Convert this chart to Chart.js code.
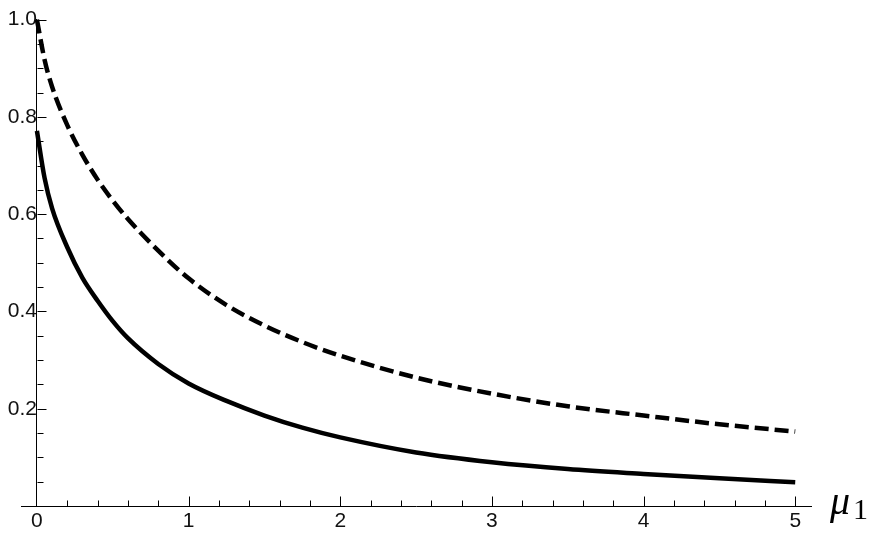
<!DOCTYPE html>
<html>
<head>
<meta charset="utf-8">
<script src="https://cdn.jsdelivr.net/npm/chart.js@4"></script>
<style>
  html, body { margin: 0; padding: 0; background: #fff; }
  #myChart { display: block; }
</style>
</head>
<body>
<canvas id="myChart" width="877" height="539"></canvas>
<script>
const colorLine = '#000000';
const colorText = '#111111';

// mu_1 values where the curves were read
const mu = [0, 0.05, 0.1, 0.2, 0.3, 0.4, 0.5, 0.6, 0.8, 1, 1.25, 1.5, 1.75, 2, 2.5, 3, 3.5, 4, 4.5, 5];
const dashedVals = [1.0, 0.918, 0.862, 0.783, 0.722, 0.671, 0.628, 0.590, 0.525, 0.468, 0.413, 0.371, 0.337, 0.309, 0.264, 0.231, 0.205, 0.186, 0.168, 0.153];
const solidVals = [0.771, 0.675, 0.612, 0.532, 0.469, 0.422, 0.380, 0.345, 0.292, 0.252, 0.216, 0.186, 0.161, 0.141, 0.110, 0.090, 0.076, 0.066, 0.057, 0.049];

const xTicks = [0, 1, 2, 3, 4, 5];
const yTicks = [0.2, 0.4, 0.6, 0.8, 1.0];

const toPoints = (vals) => mu.map((m, i) => ({x: m, y: vals[i]}));

Chart.defaults.font.family = '"Liberation Sans", Arial, sans-serif';
Chart.defaults.font.size = 21;
Chart.defaults.color = colorText;

// Mathematica style ticks pointing into the plot
const innerTicks = {
  id: 'innerTicks',
  afterDraw(chart) {
    const {ctx, scales: {x, y}} = chart;
    const x0 = Math.round(x.getPixelForValue(0)) + 0.5;
    const y0 = Math.round(y.getPixelForValue(0)) + 0.5;
    ctx.save();
    ctx.strokeStyle = colorLine;
    ctx.lineWidth = 1;
    ctx.beginPath();
    for (let i = 1; i <= 25; i++) {
      const px = Math.round(x.getPixelForValue(i * 0.2)) + 0.5;
      const len = i % 5 === 0 ? 10 : 6;
      ctx.moveTo(px, y0);
      ctx.lineTo(px, y0 - len);
    }
    for (let i = 1; i <= 20; i++) {
      const py = Math.round(y.getPixelForValue(i * 0.05)) + 0.5;
      const len = i % 4 === 0 ? 9 : 6;
      ctx.moveTo(x0, py);
      ctx.lineTo(x0 + len, py);
    }
    ctx.stroke();

    // axis label
    ctx.fillStyle = '#000';
    ctx.textBaseline = 'alphabetic';
    ctx.font = 'italic 40px "Liberation Serif"';
    ctx.fillText('μ', 830, 514);
    ctx.font = '30px "Liberation Serif"';
    ctx.fillText('1', 853, 519);
    ctx.restore();
  }
};

new Chart(document.getElementById('myChart'), {
  type: 'scatter',
  data: {
    datasets: [
      {
        label: 'dashed',
        data: toPoints(dashedVals),
        showLine: true,
        borderColor: colorLine,
        borderWidth: 4.5,
        borderDash: [14, 6],
        borderCapStyle: 'butt',
        pointRadius: 0,
        cubicInterpolationMode: 'monotone',
        clip: false,
      },
      {
        label: 'solid',
        data: toPoints(solidVals),
        showLine: true,
        borderColor: colorLine,
        borderWidth: 4.5,
        pointRadius: 0,
        cubicInterpolationMode: 'monotone',
        clip: false,
      }
    ]
  },
  options: {
    responsive: false,
    animation: false,
    layout: {
      padding: {left: 21, right: 66, top: 18, bottom: 7}
    },
    plugins: {
      legend: {display: false},
      tooltip: {enabled: false}
    },
    scales: {
      x: {
        type: 'linear',
        min: -0.105,
        max: 5.104,
        afterBuildTicks: (s) => { s.ticks = xTicks.map(v => ({value: v})); },
        afterFit: (s) => { s.height = 26; },
        grid: {display: false, drawTicks: false},
        border: {display: true, color: colorLine, width: 1},
        ticks: {
          color: colorText,
          padding: 3,
          maxRotation: 0,
          font: {size: 21},
          callback: (v) => String(v)
        }
      },
      y: {
        type: 'linear',
        position: {x: 0},
        min: 0,
        max: 1.0,
        afterBuildTicks: (s) => { s.ticks = yTicks.map(v => ({value: v})); },
        grid: {display: false, drawTicks: false},
        border: {display: true, color: colorLine, width: 1},
        ticks: {
          color: colorText,
          padding: 7,
          font: {size: 21},
          callback: (v) => v.toFixed(1)
        }
      }
    }
  },
  plugins: [innerTicks]
});
</script>
</body>
</html>
